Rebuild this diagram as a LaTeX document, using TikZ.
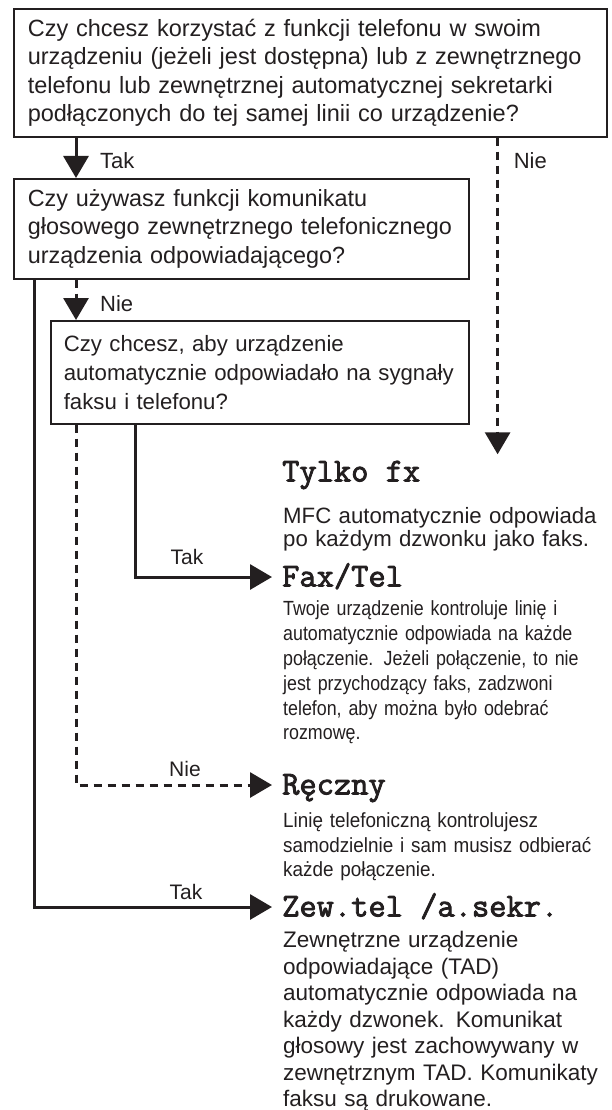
\documentclass[tikz,border=0pt]{standalone}
\usepackage{fontspec}
\setmainfont{Liberation Sans}
\newfontfamily\narrowfont[FakeStretch=0.87]{Liberation Sans}
\newfontfamily\semifont[FakeStretch=0.92]{Liberation Sans}
\newfontfamily\headfont[FakeBold=2.5]{Latin Modern Mono}
\usepackage{tikz}
\usetikzlibrary{arrows.meta}
\usetikzlibrary{positioning}
\definecolor{ink}{HTML}{231F20}
\tikzstyle{question}=[draw=ink,line width=1.6pt,rectangle,anchor=north west,align=left,inner xsep=14pt,inner ysep=0pt,font=\fontsize{23.5}{28.5}\selectfont]
\tikzstyle{answer}=[anchor=west,inner xsep=10pt,inner ysep=0pt,text height=19pt,text depth=0pt,font=\headfont\fontsize{33.5}{33.5}\selectfont]
\tikzstyle{note}=[anchor=base west,inner sep=0pt,align=left,text width=330pt]
\tikzstyle{branch}=[inner sep=0pt,font=\fontsize{22}{22}\selectfont]
\tikzstyle{flow}=[line width=3pt,draw=ink,-{Triangle[length=22pt,width=25pt]}]
\tikzstyle{maybe}=[flow,dash pattern=on 8pt off 6pt]

\begin{document}
\begin{tikzpicture}[x=1pt,y=-1pt,text=ink]
\useasboundingbox (0,0) rectangle (612,1110);

% questions
\node [question,text width=565pt,minimum height=128pt] (q1) at (13,8)
  {Czy chcesz korzystać z funkcji telefonu w swoim\\
   urządzeniu (jeżeli jest dostępna) lub z zewnętrznego\\
   telefonu lub zewnętrznej automatycznej sekretarki\\
   podłączonych do tej samej linii co urządzenie?};
\node [question,text width=427pt,minimum height=100pt,font=\fontsize{23.4}{28.5}\selectfont] (q2) at (13,178)
  {Czy używasz funkcji komunikatu\\
   głosowego zewnętrznego telefonicznego\\
   urządzenia odpowiadającego?};
\node [question,text width=392pt,minimum height=103pt,inner xsep=13pt,font=\fontsize{22.2}{29}\selectfont] (q3) at (50,320)
  {Czy chcesz, aby urządzenie\\
   \mbox{automatycznie odpowiadało na sygnały}\\
   faksu i telefonu?};

% answers
\node [answer] (tylko) at (272,472) {Tylko fx};
\node [answer] (fax) at (272,577) {Fax/Tel};
\node [answer] (reczny) at (272,785) {Ręczny};
\node [answer] (zew) at (272,907) {Zew.tel /a.sekr.};

\node [note,font=\fontsize{22.2}{23.5}\selectfont] (tylkoTxt) at ([xshift=11pt,yshift=-41.5pt]tylko.base west)
  {MFC automatycznie odpowiada\\ po każdym dzwonku jako faks.};
\node [note,font=\narrowfont\fontsize{20.5}{24.8}\selectfont] (faxTxt) at ([xshift=11pt,yshift=-29.3pt]fax.base west)
  {Twoje urządzenie kontroluje linię i\\ automatycznie odpowiada na każde\\
   połączenie. Jeżeli połączenie, to nie\\ jest przychodzący faks, zadzwoni\\
   telefon, aby można było odebrać\\ rozmowę.};
\node [note,font=\semifont\fontsize{20.5}{24.5}\selectfont] (recznyTxt) at ([xshift=11pt,yshift=-33pt]reczny.base west)
  {Linię telefoniczną kontrolujesz\\ samodzielnie i sam musisz odbierać\\ każde połączenie.};
\node [note,font=\fontsize{22.5}{26.5}\selectfont] (zewTxt) at ([xshift=11pt,yshift=-31pt]zew.base west)
  {Zewnętrzne urządzenie\\ odpowiadające (TAD)\\ automatycznie odpowiada na\\
   każdy dzwonek. Komunikat\\ głosowy jest zachowywany w\\ zewnętrznym TAD. Komunikaty\\
   faksu są drukowane.};

% connectors
\coordinate (nieTop) at ([xshift=-110pt]q1.south east);
\draw [flow] ([xshift=63pt]q1.south west) -- ([xshift=63pt]q2.north west);
\draw [maybe,shorten >=8pt] (nieTop) -- (nieTop |- tylko.north);
\draw [maybe] ([xshift=63pt]q2.south west) -- ([xshift=26pt]q3.north west);
\draw [flow] ([xshift=21pt]q2.south west) |- (zew.west);
\draw [flow] ([xshift=85pt]q3.south west) |- (fax.west);
\draw [maybe] ([xshift=26pt]q3.south west) |- (reczny.west);

% labels
\node [branch,anchor=west] (takA) at ([xshift=87pt,yshift=-23pt]q1.south west) {Tak};
\node [branch,anchor=west] (nieA) at ([xshift=-94pt,yshift=-23pt]q1.south east) {Nie};
\node [branch,anchor=west] (nieB) at ([xshift=87pt,yshift=-24pt]q2.south west) {Nie};
\node [branch,font=\fontsize{21}{21}\selectfont] (takB) at ([xshift=-85pt,yshift=20pt]fax.west) {Tak};
\node [branch,font=\fontsize{21}{21}\selectfont] (nieC) at ([xshift=-87pt,yshift=16pt]reczny.west) {Nie};
\node [branch,font=\fontsize{21}{21}\selectfont] (takC) at ([xshift=-86pt,yshift=15pt]zew.west) {Tak};

\end{tikzpicture}
\end{document}
